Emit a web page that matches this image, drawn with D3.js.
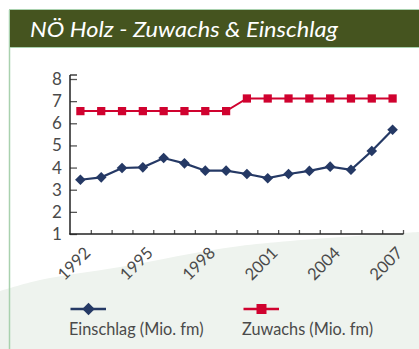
<!DOCTYPE html>
<html>
<head>
<meta charset="utf-8">
<script src="https://cdn.jsdelivr.net/npm/d3@7"></script>
<style>
  html, body { margin: 0; padding: 0; background: #ffffff; }
  svg { display: block; }
  text { font-family: Lato, "Open Sans", "Noto Sans", sans-serif; }
</style>
</head>
<body>
<svg id="chart" width="419" height="349"></svg>
<script>
// Holz in Niederösterreich, Mio. Festmeter pro Jahr
const years = ["1992","1993","1994","1995","1996","1997","1998","1999",
               "2000","2001","2002","2003","2004","2005","2006","2007"];
const einschlag = [3.45, 3.56, 3.98, 4.01, 4.43, 4.19, 3.86, 3.86,
                   3.71, 3.52, 3.71, 3.85, 4.04, 3.90, 4.75, 5.71];
const zuwachs   = [6.55, 6.55, 6.55, 6.55, 6.55, 6.55, 6.55, 6.55,
                   7.12, 7.12, 7.12, 7.12, 7.12, 7.12, 7.12, 7.12];
const yTicks = [1, 2, 3, 4, 5, 6, 7, 8];
const xLabels = ["1992", "1995", "1998", "2001", "2004", "2007"];
const seriesNames = ["Einschlag (Mio. fm)", "Zuwachs (Mio. fm)"];
const title = "NÖ Holz - Zuwachs & Einschlag";

const navy = "#253965", red = "#d0022f", ink = "#4a4a4a", axisInk = "#222222";

const svg = d3.select("#chart");

// soft background swoosh in the lower part of the panel
svg.append("path")
  .attr("d", d3.line().curve(d3.curveCatmullRom)([[0, 291], [40, 280], [120, 267], [240, 246], [419, 232]])
        + "L419,349L0,349Z")
  .attr("fill", "#eef3ee");

// panel frame and header band
svg.append("line").attr("x1", 9.5).attr("x2", 9.5).attr("y1", 10).attr("y2", 349)
  .attr("stroke", "#a9d1ae").attr("stroke-width", 1.5);
svg.append("rect").attr("x", 9).attr("y", 9).attr("width", 412).attr("height", 39)
  .attr("fill", "#a9d1ae");
svg.append("rect").attr("x", 10).attr("y", 10).attr("width", 410).attr("height", 37)
  .attr("fill", "#45541f");
svg.append("text").attr("x", 30).attr("y", 37)
  .attr("fill", "#ffffff").attr("font-size", 21).attr("font-style", "italic")
  .attr("textLength", 308).attr("lengthAdjust", "spacingAndGlyphs")
  .text(title);

// scales
const x = d3.scaleBand().domain(years).range([70, 403]).padding(0);
const y = d3.scaleLinear().domain([1, 8]).range([234, 79]);
const cx = d => x(d) + x.bandwidth() / 2;

// y axis
const yAxis = svg.append("g").attr("transform", "translate(70,0)")
  .call(d3.axisLeft(y).tickValues(yTicks).tickSize(-7).tickPadding(13).tickFormat(d3.format("d")));
yAxis.select(".domain").remove();
yAxis.selectAll(".tick line").attr("stroke", "#555").attr("stroke-width", 1.3);
yAxis.selectAll(".tick text").attr("fill", ink).attr("font-size", 17)
  .attr("font-family", "Lato, 'Open Sans', sans-serif").attr("text-anchor", "start").attr("x", -18);
svg.append("line").attr("x1", 70).attr("x2", 70).attr("y1", 75).attr("y2", 234.5)
  .attr("stroke", axisInk).attr("stroke-width", 1.5);
svg.append("line").attr("x1", 70).attr("x2", 77).attr("y1", 75).attr("y2", 75)
  .attr("stroke", axisInk).attr("stroke-width", 1.3);

// x axis: ticks on category boundaries, labels every third year
const xb = d3.scaleLinear().domain([0, years.length]).range([70, 403]);
const xAxis = svg.append("g").attr("transform", "translate(0,234)")
  .call(d3.axisBottom(xb).tickValues(d3.range(1, years.length + 1)).tickSize(-4).tickFormat(""));
xAxis.select(".domain").remove();
xAxis.selectAll(".tick line").attr("stroke", "#555").attr("stroke-width", 1.3);
svg.append("line").attr("x1", 69.3).attr("x2", 403.5).attr("y1", 234).attr("y2", 234)
  .attr("stroke", axisInk).attr("stroke-width", 1.5);

svg.append("g").selectAll("text").data(xLabels).join("text")
  .attr("transform", d => `translate(${cx(d) + 7},${250}) rotate(-45)`)
  .attr("text-anchor", "end").attr("dy", "0.35em")
  .attr("fill", ink).attr("font-size", 16.5)
  .text(d => d);

// lines
const line = vals => d3.line().x((d, i) => cx(years[i])).y(d => y(d))(vals);

svg.append("path").attr("d", line(zuwachs)).attr("fill", "none")
  .attr("stroke", red).attr("stroke-width", 2);
svg.append("path").attr("d", line(einschlag)).attr("fill", "none")
  .attr("stroke", navy).attr("stroke-width", 2.2);

const diamond = d3.symbol().type(d3.symbolDiamond2).size(72);
const square = d3.symbol().type(d3.symbolSquare).size(68);

svg.append("g").selectAll("path").data(zuwachs).join("path")
  .attr("transform", (d, i) => `translate(${cx(years[i])},${y(d)})`)
  .attr("d", square()).attr("fill", red);
svg.append("g").selectAll("path").data(einschlag).join("path")
  .attr("transform", (d, i) => `translate(${cx(years[i])},${y(d)})`)
  .attr("d", diamond()).attr("fill", navy);

// legend
const legend = [
  { name: seriesNames[0], color: navy, sym: diamond, x: 70 },
  { name: seriesNames[1], color: red, sym: square, x: 243 }
];
const lg = svg.append("g").selectAll("g").data(legend).join("g")
  .attr("transform", d => `translate(${d.x},0)`);
lg.append("line").attr("x1", 0.5).attr("x2", 36).attr("y1", 309).attr("y2", 309)
  .attr("stroke", d => d.color).attr("stroke-width", 2.5);
lg.append("path").attr("transform", "translate(18.5,309)")
  .attr("d", d => d.sym.size(100)()).attr("fill", d => d.color);
lg.append("text").attr("x", -1).attr("y", 335)
  .attr("fill", ink).attr("font-size", 16.3)
  .text(d => d.name);
</script>
</body>
</html>
